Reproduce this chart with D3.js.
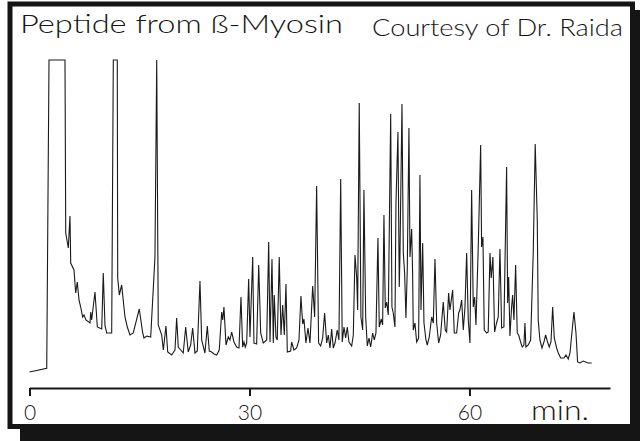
<!DOCTYPE html>
<html>
<head>
<meta charset="utf-8">
<script src="https://cdn.jsdelivr.net/npm/d3@7"></script>
<style>
  html, body { margin: 0; padding: 0; background: #fff; }
  svg { display: block; }
</style>
</head>
<body>
<svg id="chart" width="640" height="441"></svg>
<script>
// ---- Data ----
const title = "Peptide from ß-Myosin";
const credit = "Courtesy of Dr. Raida";
const unitLabel = "min.";
const tickValues = [0, 30, 60];
const tickLabels = ["0", "30", "60"];

// retention time (min)
const times = [
  0, 2.35, 2.66, 4.84, 4.94, 5.29, 5.52, 5.62, 6.07, 6.30, 6.52, 6.75, 6.98, 7.25, 7.43, 7.70,
  8.25, 8.35, 8.48, 8.93, 9.07, 9.25, 9.85, 10.06, 10.30, 10.53, 11.21, 11.43, 11.97, 12.03,
  12.25, 12.57, 13.02, 13.34, 13.70, 14.15, 14.97, 15.44, 15.61, 15.98, 16.53, 17.11, 17.35,
  17.56, 18.03, 18.25, 18.61, 18.85, 19.39, 19.84, 20.07, 20.29, 20.97, 21.30, 21.65, 21.98,
  22.25, 22.57, 22.88, 23.25, 23.48, 23.93, 24.25, 24.52, 24.85, 25.16, 25.53, 25.88, 26.21,
  26.35, 26.52, 26.80, 27.11, 27.34, 27.57, 27.89, 28.25, 28.57, 28.84, 29.07, 29.25, 29.43,
  29.62, 29.89, 30.07, 30.44, 30.61, 30.98, 31.26, 31.53, 31.88, 32.35, 32.62, 32.80, 33.07,
  33.25, 33.38, 33.61, 33.79, 34.06, 34.30, 34.53, 34.75, 34.98, 35.16, 35.62, 35.75, 36.07,
  36.44, 36.75, 37.02, 37.26, 37.43, 37.70, 37.98, 38.25, 38.62, 38.89, 39.16, 39.43, 39.71,
  39.98, 40.25, 40.53, 40.75, 40.98, 41.21, 41.43, 41.66, 41.97, 42.20, 42.44, 42.65, 42.89,
  43.12, 43.34, 43.57, 43.94, 44.16, 44.39, 44.62, 44.75, 44.97, 45.20, 45.44, 45.61, 45.85,
  46.07, 46.30, 46.53, 46.80, 47.02, 47.25, 47.52, 47.70, 47.97, 48.16, 48.34, 48.52, 48.71,
  48.93, 49.26, 49.43, 49.61, 49.84, 49.98, 50.25, 50.43, 50.52, 50.80, 50.98, 51.16, 51.34,
  51.52, 51.75, 51.89, 52.12, 52.25, 52.34, 52.57, 52.80, 53.07, 53.25, 53.39, 53.62, 53.80,
  54.07, 54.25, 54.52, 54.85, 55.07, 55.30, 55.53, 55.80, 56.07, 56.43, 56.70, 56.89, 57.16,
  57.34, 57.71, 57.93, 58.25, 58.53, 58.70, 58.94, 59.16, 59.39, 59.62, 59.84, 60.07, 60.30,
  60.52, 60.71, 60.89, 61.20, 61.53, 61.66, 61.84, 62.02, 62.35, 62.56, 62.80, 62.97, 63.20,
  63.43, 63.70, 63.93, 64.16, 64.39, 64.70, 65.07, 65.21, 65.35, 65.52, 65.75, 65.89, 66.07,
  66.30, 66.52, 66.71, 66.98, 67.20, 67.43, 67.57, 67.70, 68.02, 68.35, 68.70, 68.97, 69.25,
  69.38, 69.61, 69.89, 70.16, 70.39, 70.61, 70.89, 71.12, 71.35, 71.57, 71.89, 72.12, 72.44,
  72.89, 73.16, 73.48, 73.71, 74.25, 74.53, 74.75, 75.07, 75.52, 76.20, 76.67
];

// detector signal (arbitrary units, 312 = full scale / clipped)
const signal = [
  0, 3.7, 312, 312, 139, 124, 156, 109, 102, 79, 90, 72, 65, 55, 57, 52,
  49, 60, 52, 80, 65, 45, 43, 99, 46, 39, 39, 312, 312, 94,
  77, 87, 55, 45, 37, 39, 63, 39, 34, 36, 35, 115, 312,
  47, 37, 22, 46, 20, 17, 22, 54, 25, 19, 45, 20, 27,
  44, 19, 21, 91, 32, 19, 46, 21, 20, 18, 17, 22, 60,
  52, 65, 27, 35, 32, 40, 30, 25, 24, 75, 25, 30, 25,
  29, 93, 35, 115, 29, 28, 107, 39, 29, 32, 130, 30, 113,
  29, 77, 35, 32, 115, 37, 67, 37, 88, 20, 21, 30, 22,
  24, 32, 76, 48, 53, 29, 44, 29, 86, 55, 186, 29, 26,
  34, 59, 29, 37, 24, 43, 24, 29, 42, 32, 193, 30, 45,
  34, 45, 30, 26, 37, 117, 95, 62, 269, 55, 42, 182, 55,
  26, 34, 25, 39, 32, 39, 134, 45, 53, 47, 157, 64, 70,
  57, 258, 65, 59, 45, 169, 240, 85, 115, 268, 119, 99, 54,
  102, 244, 115, 143, 99, 42, 49, 30, 34, 197, 62, 129, 49,
  32, 27, 35, 55, 49, 113, 49, 29, 37, 70, 42, 40, 79,
  62, 82, 39, 39, 59, 62, 72, 42, 65, 119, 52, 29, 182,
  65, 75, 47, 125, 227, 125, 135, 42, 39, 40, 119, 94, 115,
  40, 49, 55, 123, 44, 45, 205, 69, 95, 36, 65, 77, 52,
  107, 39, 37, 30, 25, 27, 49, 25, 27, 32, 119, 228, 152,
  52, 32, 24, 30, 37, 31, 25, 30, 65, 34, 24, 19, 14,
  14, 17, 13, 19, 60, 39, 10, 9, 11, 9, 9
];

// ---- Drawing ----
const svg = d3.select("#chart");
const ink = "#151515";
const fontFam = "Lato, 'Open Sans', 'DejaVu Sans', sans-serif";

// drop shadow and frame
svg.append("rect")
  .attr("x", 20).attr("y", 10)
  .attr("width", 640).attr("height", 441)
  .attr("fill", ink);
svg.append("rect")
  .attr("x", 10).attr("y", 4)
  .attr("width", 622.5).attr("height", 422.5)
  .attr("fill", "#fff")
  .attr("stroke", ink)
  .attr("stroke-width", 5);

const x = d3.scaleLinear().domain([0, 79.17]).range([29.5, 610]);
const y = d3.scaleLinear().domain([0, 312]).range([372, 60]);

const pts = times.map((t, i) => [t, signal[i]]);
const line = d3.line().x(d => x(d[0])).y(d => y(d[1]));

svg.append("path")
  .datum(pts)
  .attr("d", line)
  .attr("fill", "none")
  .attr("stroke", "#1a1a1a")
  .attr("stroke-width", 1.1)
  .attr("stroke-linejoin", "miter");

// x axis
const axis = d3.axisBottom(x)
  .tickValues(tickValues)
  .tickFormat((d, i) => tickLabels[i])
  .tickSizeInner(8)
  .tickSizeOuter(0)
  .tickPadding(9);

const gx = svg.append("g")
  .attr("transform", "translate(0,388)")
  .call(axis);
gx.select(".domain").attr("stroke", ink).attr("stroke-width", 2);
gx.selectAll(".tick line").attr("stroke", ink).attr("stroke-width", 2);
gx.selectAll(".tick text")
  .attr("fill", ink)
  .style("font-family", fontFam)
  .style("font-weight", 300)
  .style("font-size", "21px");

svg.append("text")
  .attr("x", 531).attr("y", 420)
  .attr("textLength", 58)
  .attr("lengthAdjust", "spacingAndGlyphs")
  .style("font-family", fontFam)
  .style("font-weight", 300)
  .style("font-size", "28px")
  .attr("fill", ink)
  .text(unitLabel);

// titles
svg.append("text")
  .attr("x", 20).attr("y", 33)
  .attr("textLength", 323)
  .attr("lengthAdjust", "spacingAndGlyphs")
  .style("font-family", fontFam)
  .style("font-weight", 300)
  .style("font-size", "25px")
  .attr("fill", ink)
  .text(title);

svg.append("text")
  .attr("x", 372).attr("y", 36)
  .attr("textLength", 251)
  .attr("lengthAdjust", "spacingAndGlyphs")
  .style("font-family", fontFam)
  .style("font-weight", 300)
  .style("font-size", "24px")
  .attr("fill", ink)
  .text(credit);
</script>
</body>
</html>
